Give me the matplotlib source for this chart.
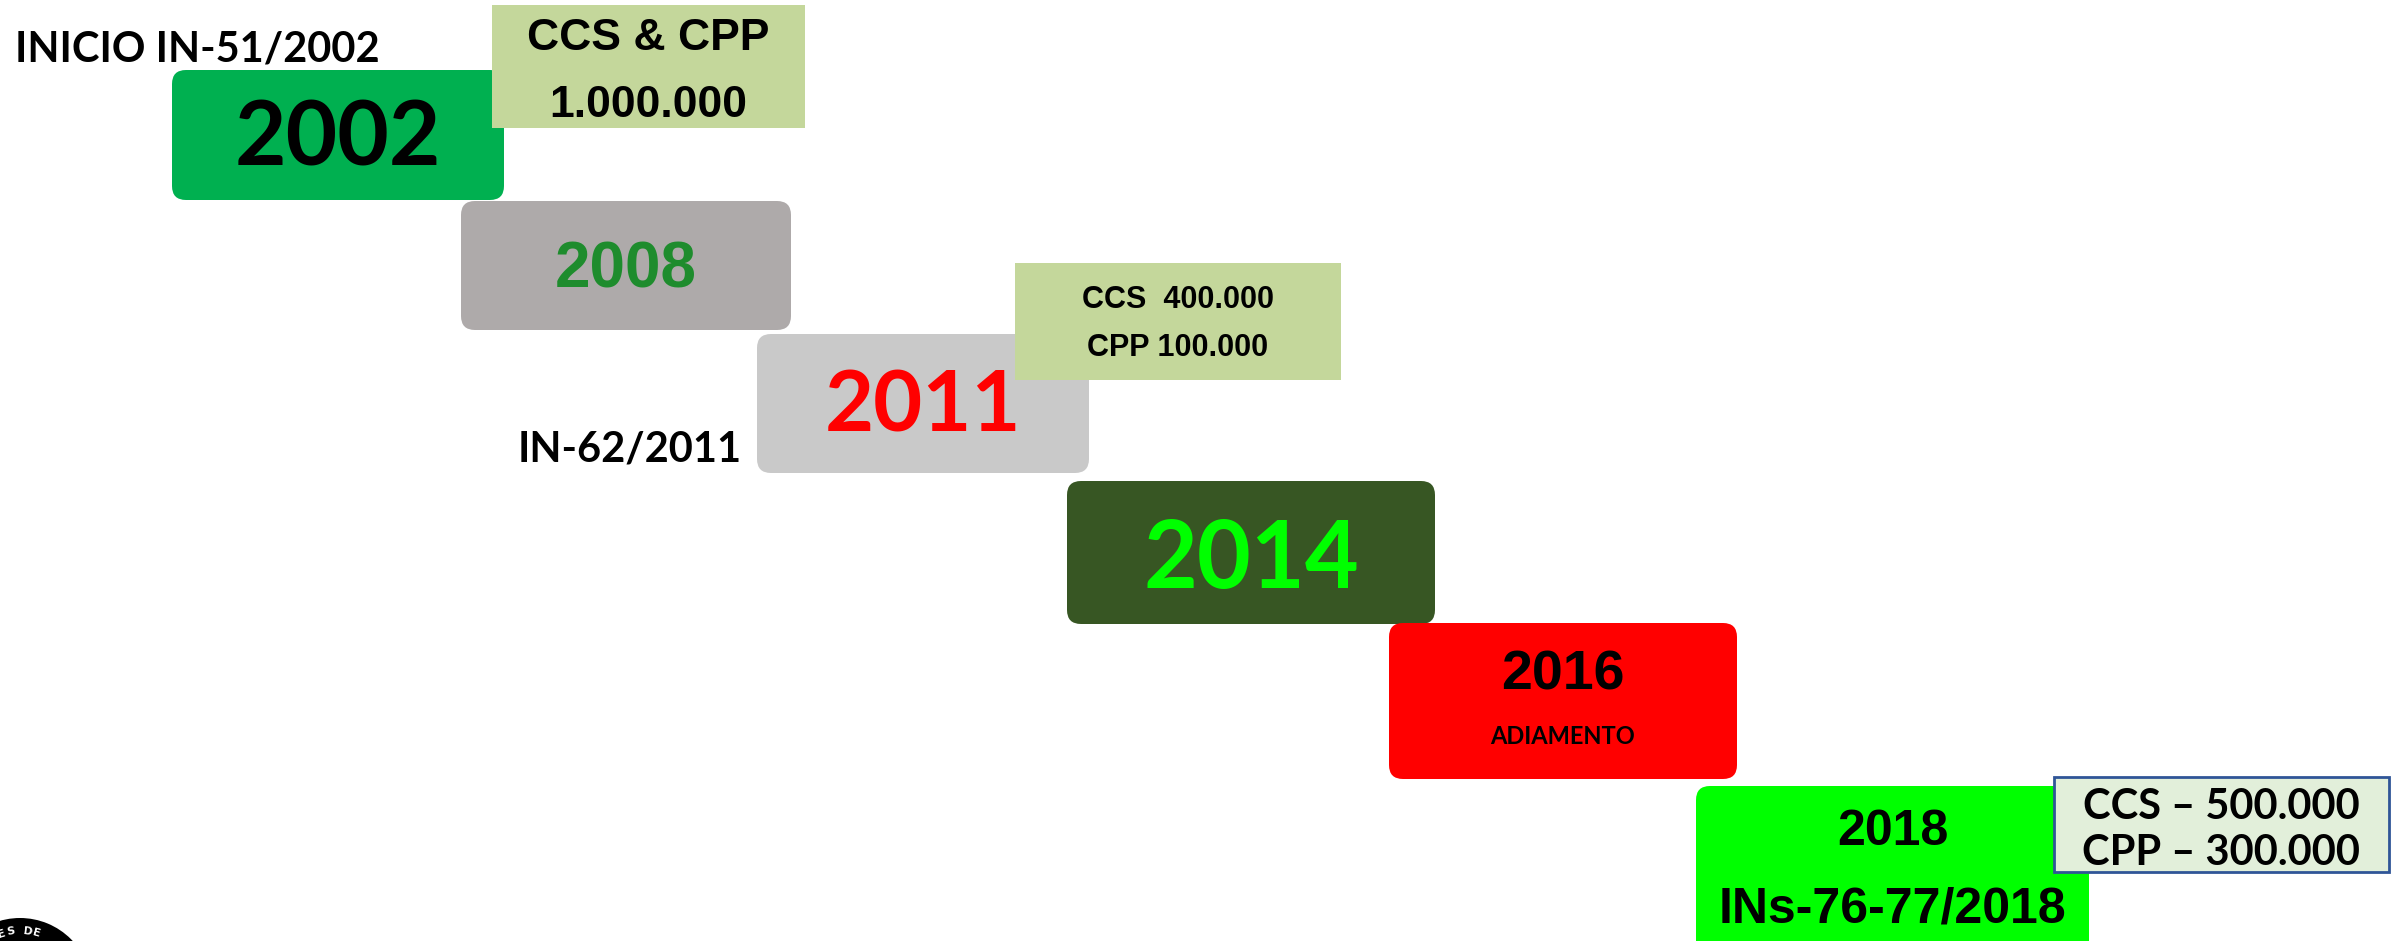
import matplotlib
matplotlib.use("Agg")
import matplotlib.pyplot as plt
from matplotlib.patches import FancyBboxPatch, Rectangle, Wedge
import numpy as np

# timeline content
years = ["2002", "2008", "2011", "2014", "2016", "2018"]
year_sub = ["", "", "", "", "ADIAMENTO", "INs-76-77/2018"]
side_labels = ["INICIO IN-51/2002", "IN-62/2011"]
note_lines = [["CCS & CPP", "1.000.000"],
              ["CCS  400.000", "CPP 100.000"],
              ["CCS \u2013 500.000", "CPP \u2013 300.000"]]
seal_text = "ES DE"

# layout in pixels (x0, y0, x1, y1), y measured from the top
year_boxes = [(172, 70, 504, 200), (461, 201, 791, 330), (757, 334, 1089, 473),
              (1067, 481, 1435, 624), (1389, 623, 1737, 779), (1696, 786, 2089, 960)]
year_fill = ["#00B050", "#AEAAAA", "#C9C9C9", "#375623", "#FF0000", "#00FF00"]
year_color = ["black", "#1E8C2D", "#FF0000", "#00FF00", "black", "black"]
year_font = ["Lato", "Liberation Sans", "Lato", "Lato", "Liberation Sans", "Liberation Sans"]
year_size = [64, 46, 61, 67, 40, 36]
year_ty = [139, 270, 407, 561, 676, 832]
sub_ty = [None, None, None, None, 737, 909]
sub_size = [0, 0, 0, 0, 17, 36]
sub_font = [None, None, None, None, "Lato", "Liberation Sans"]

note_boxes = [(492, 5, 805, 128), (1015, 263, 1341, 380), (2054, 777, 2389, 872)]
note_fill = ["#C4D79B", "#C4D79B", "#E2EFDA"]
note_edge = [None, None, "#2F5597"]
note_font = ["Liberation Sans", "Liberation Sans", "Lato"]
note_size = [32, 22, 30]
note_ty = [(38, 105), (300, 348), (807, 853)]

W, H = 2394, 941
fig = plt.figure(figsize=(W / 100, H / 100), dpi=100)
ax = fig.add_axes([0, 0, 1, 1])
ax.set_xlim(0, W)
ax.set_ylim(H, 0)
ax.axis("off")

z = 1
for i, (x0, y0, x1, y1) in enumerate(year_boxes):
    ax.add_patch(FancyBboxPatch((x0, y0), x1 - x0, y1 - y0,
                                boxstyle="round,pad=0,rounding_size=14",
                                fc=year_fill[i], ec="none", zorder=z))
    ax.text((x0 + x1) / 2, year_ty[i], years[i], ha="center", va="center",
            fontsize=year_size[i], fontweight="bold", family=year_font[i],
            color=year_color[i], zorder=z + 0.5)
    if year_sub[i]:
        ax.text((x0 + x1) / 2, sub_ty[i], year_sub[i], ha="center", va="center",
                fontsize=sub_size[i], fontweight="bold", family=sub_font[i],
                color="black", zorder=z + 0.5)
    z += 1

note_z = [2.8, 4.8, 7.8]
for i, (x0, y0, x1, y1) in enumerate(note_boxes):
    ax.add_patch(Rectangle((x0, y0), x1 - x0, y1 - y0, fc=note_fill[i],
                           ec=note_edge[i] or "none", lw=2, zorder=note_z[i]))
    for line, ty in zip(note_lines[i], note_ty[i]):
        ax.text((x0 + x1) / 2, ty, line, ha="center", va="center",
                fontsize=note_size[i], fontweight="bold", family=note_font[i],
                color="black", zorder=note_z[i] + 0.1)

ax.text(15, 49, side_labels[0], ha="left", va="center", fontsize=30,
        fontweight="bold", family="Lato", color="black")
ax.text(742, 449, side_labels[1], ha="right", va="center", fontsize=30,
        fontweight="bold", family="Lato", color="black")

# partial seal in the bottom-left corner
cx, cy, r = 20, 990, 72
ax.add_patch(Wedge((cx, cy), r, 0, 360, width=26, fc="black", ec="none", zorder=10))
for k, ch in enumerate(seal_text):
    ang = np.deg2rad(108 - k * 8.5)
    ax.text(cx + (r - 13) * np.cos(ang), cy - (r - 13) * np.sin(ang), ch,
            ha="center", va="center", fontsize=8, fontweight="bold",
            color="white", rotation=np.rad2deg(ang) - 90, zorder=11)

fig.savefig("out.png", dpi=100)
